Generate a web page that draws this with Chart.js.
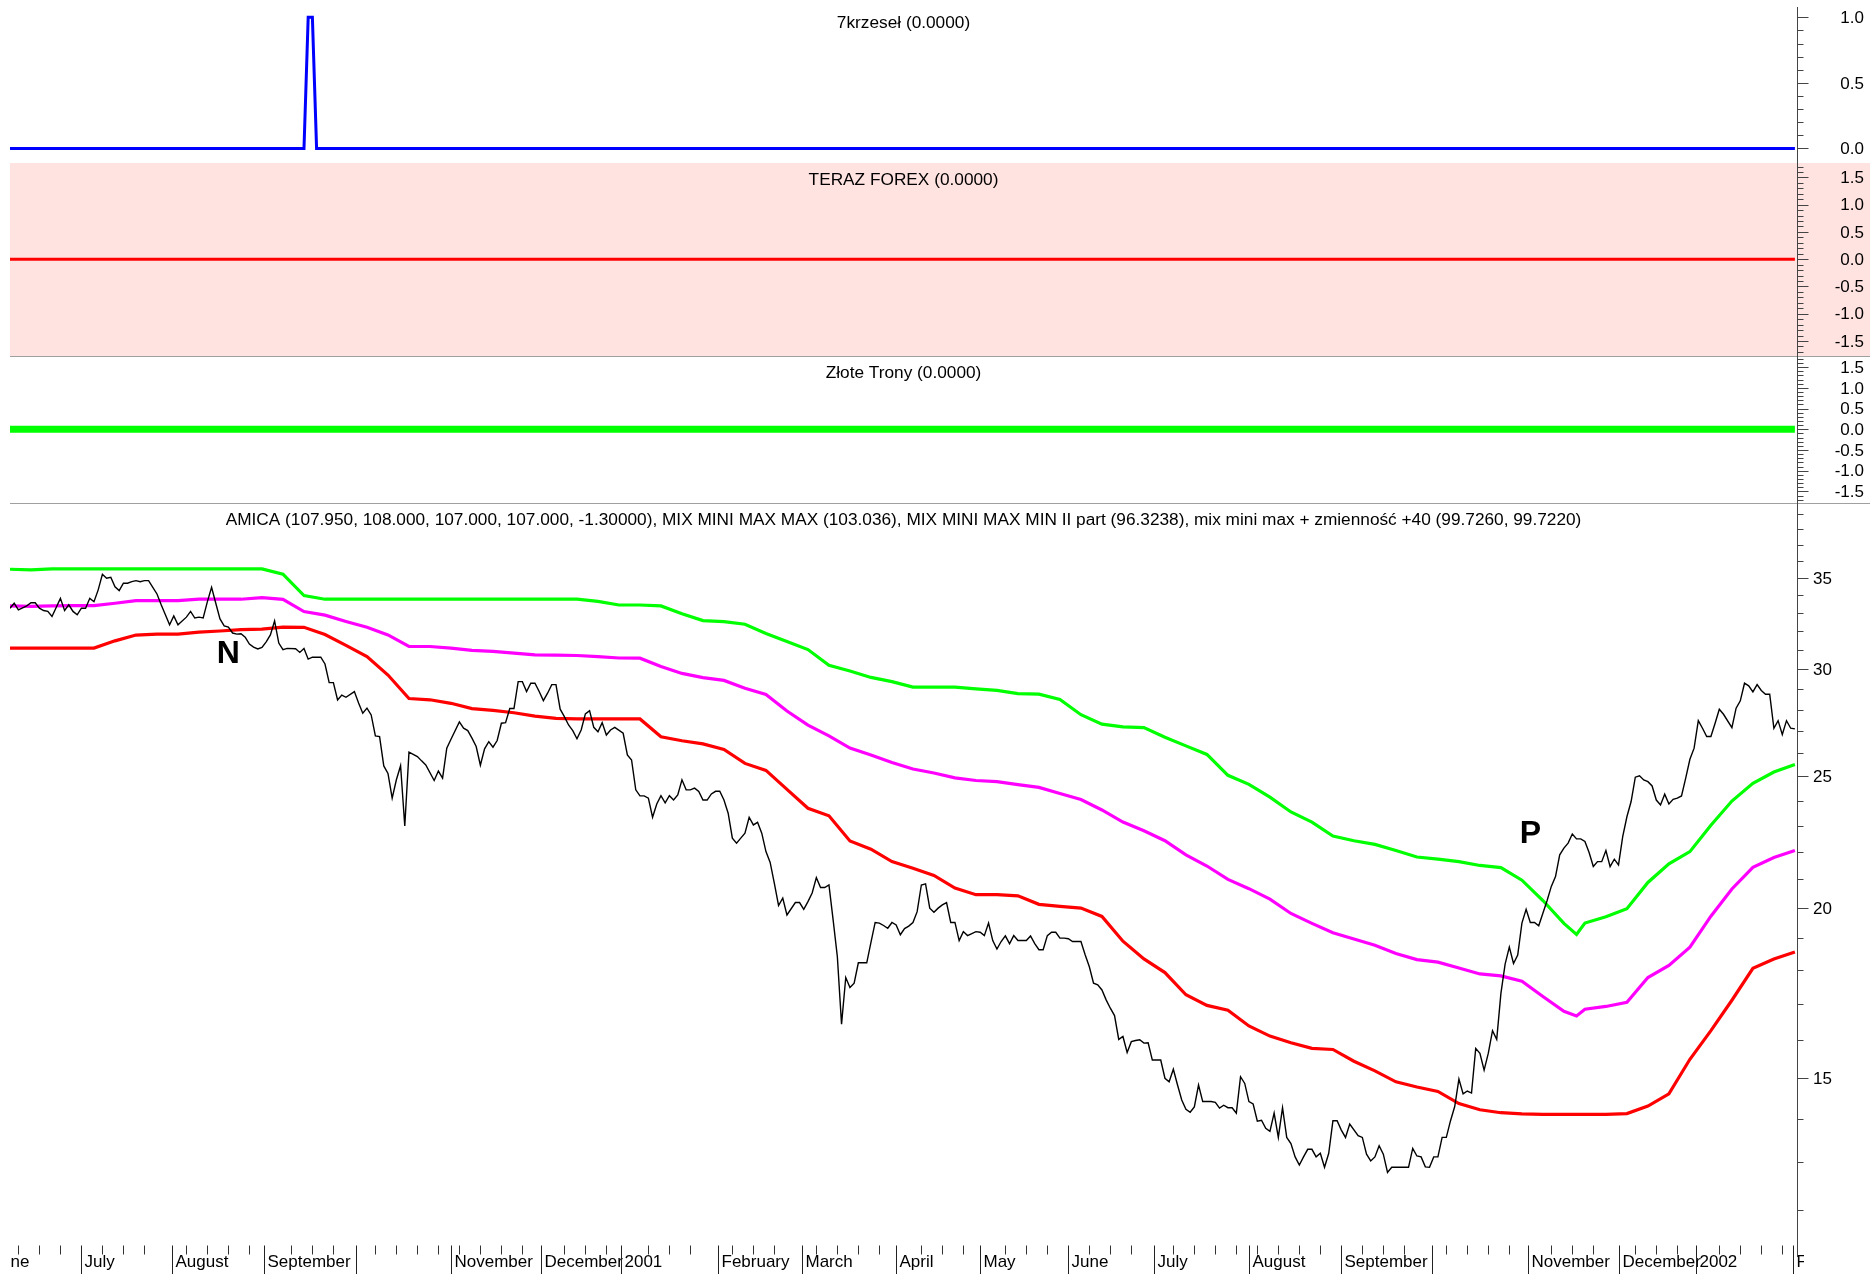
<!DOCTYPE html>
<html><head><meta charset="utf-8">
<script src="https://cdn.jsdelivr.net/npm/chart.js@4/dist/chart.umd.min.js"></script>
<style>
html,body{margin:0;padding:0;background:#fff;}
#wrap{position:relative;width:1870px;height:1274px;overflow:hidden;background:#fff;}
canvas{position:absolute;left:0;}
</style></head><body>
<div id="wrap">
<canvas id="c1" width="1870" height="163" style="top:0px"></canvas>
<canvas id="c2" width="1870" height="193" style="top:163px"></canvas>
<canvas id="c3" width="1870" height="147" style="top:356px"></canvas>
<canvas id="c4" width="1870" height="771" style="top:503px"></canvas>
</div>
<script>
// ---------------- DATA ----------------
const panelTitles = [
  '7krzeseł (0.0000)',
  'TERAZ FOREX (0.0000)',
  'Złote Trony (0.0000)',
  'AMICA (107.950, 108.000, 107.000, 107.000, -1.30000), MIX MINI MAX MAX (103.036), MIX MINI MAX MIN II part (96.3238), mix mini max + zmienność +40 (99.7260, 99.7220)'
];

// trading-day index of each month boundary and its label
const monthDays   = [-5, 17, 38.5, 60.5, 82.5, 105, 126.5, 145.5, 168.5, 188.5, 211, 231, 252, 272.5, 295, 317, 338.5, 361.5, 383, 401.5, 424.5];
const monthLabels = ['June','July','August','September','','November','December','2001','February','March','April','May','June','July','August','September','','November','December','2002','February'];

// 7krzesel signal
const krzeselDays   = [0, 70, 71, 72, 73, 425];
const krzeselValues = [0, 0, 1, 1, 0, 0];
// TERAZ FOREX signal
const forexDays   = [0, 425];
const forexValues = [0, 0];
// Zlote Trony signal
const tronyDays   = [0, 425];
const tronyValues = [0, 0];

// AMICA daily close (index = trading day, null = not read)
const priceClose = [
33.25,33.53,33.16,null,33.38,33.56,33.56,33.25,33.12,33.07,
32.79,null,33.81,33.12,33.44,33.07,32.88,33.25,33.25,33.81,
33.62,34.30,35.22,34.98,35.04,34.48,34.26,34.69,34.69,34.78,
34.84,34.78,34.84,34.84,34.45,34.06,33.44,32.88,32.33,32.82,
32.33,null,32.75,33.07,32.70,32.75,32.71,33.62,34.45,33.53,
32.65,32.27,32.20,31.88,31.82,31.84,31.66,31.29,31.13,31.03,
31.11,31.41,31.78,32.54,31.34,30.99,31.06,null,31.04,30.85,
31.06,30.50,30.60,null,30.60,30.25,29.31,29.31,28.46,28.70,
28.59,null,28.87,28.31,27.83,28.07,27.75,26.78,26.75,25.45,
25.13,24.10,24.86,25.46,22.99,26.05,null,25.86,25.67,25.49,
null,24.83,25.23,24.93,26.23,26.63,null,27.42,27.13,27.02,
26.68,26.30,25.48,26.20,26.52,26.27,26.57,27.36,27.39,28.05,
28.05,29.36,29.36,28.87,29.28,29.28,28.87,28.43,28.79,29.21,
29.21,28.02,27.67,27.28,27.02,26.65,27.05,27.80,27.95,27.17,
26.97,27.39,26.82,27.05,27.17,null,26.90,25.93,25.71,24.44,
24.19,24.19,24.10,23.33,23.86,24.20,23.91,24.20,24.02,24.23,
24.86,24.44,24.44,24.51,24.37,24.02,24.02,24.27,24.38,24.38,
24.02,23.49,22.52,22.33,22.52,22.71,23.33,23.03,23.13,22.71,
22.01,21.61,20.86,20.09,20.34,19.77,null,20.19,20.19,19.96,
20.22,20.52,21.06,20.71,20.71,20.80,19.60,18.42,16.43,17.78,
17.48,17.61,18.23,18.23,18.23,18.87,19.52,19.50,19.42,19.33,
19.52,19.44,19.12,19.32,19.40,19.52,19.88,20.80,20.84,20.00,
19.86,20.00,20.11,20.19,19.52,19.52,18.93,19.22,19.09,null,
19.22,19.20,19.09,19.50,18.93,18.66,18.90,19.08,18.83,19.09,
18.93,18.93,18.93,19.08,18.83,18.64,18.64,19.09,19.20,19.20,
19.01,19.01,18.99,18.90,18.90,18.90,18.48,18.11,17.61,17.56,
17.41,17.12,16.88,16.67,16.01,16.09,15.66,15.95,15.98,16.00,
15.91,15.92,15.46,null,15.46,14.99,14.90,15.22,14.82,14.45,
14.22,14.15,14.28,14.82,14.41,14.41,14.41,14.39,14.25,14.32,
14.26,14.26,14.13,15.03,14.86,14.41,14.35,13.94,13.96,13.77,
13.70,14.13,13.56,14.26,13.56,13.42,13.12,12.94,13.12,13.29,
13.29,13.12,13.20,12.89,13.20,13.95,13.95,13.73,13.56,13.87,
null,13.60,13.56,13.18,13.03,13.12,13.37,13.18,12.78,12.89,
12.89,null,12.89,12.89,13.31,13.14,13.12,12.90,12.89,13.12,
13.12,13.56,13.56,13.95,14.29,14.97,14.60,14.67,14.62,15.77,
15.64,15.20,15.64,16.25,16.01,17.31,18.19,18.72,18.21,18.47,
19.50,19.96,19.52,19.52,19.41,null,20.26,20.75,21.10,21.89,
22.14,22.33,22.68,22.49,22.49,22.39,21.98,21.46,21.64,21.64,
22.05,21.46,21.73,21.52,22.58,23.35,23.96,24.97,25.03,24.85,
24.78,24.60,24.02,23.82,24.26,23.86,24.05,24.10,24.19,24.93,
25.74,26.23,27.48,27.13,26.75,26.75,27.36,28.02,27.78,null,
27.16,28.07,28.42,29.28,29.15,28.85,29.21,28.92,28.74,28.74,
27.13,27.48,26.84,27.48,27.13,27.10
];

// indicator bands, sampled on these trading days
const bandDays = [0,5,10,15,20,25,30,35,40,45,50,55,60,65,70,75,80,85,90,95,100,105,110,115,120,125,130,135,140,145,150,155,160,165,170,175,180,185,190,195,200,205,210,215,220,225,230,235,240,245,250,255,260,265,270,275,280,285,290,295,300,305,310,315,320,325,330,335,340,345,350,355,360,365,370,373,375,380,385,390,395,400,405,410,415,420,425];

const mixMax = [35.52,35.48,35.54,35.54,35.54,35.54,35.54,35.54,35.54,35.54,35.54,35.54,35.54,35.22,33.97,
33.76,33.76,33.76,33.76,33.76,33.76,33.76,33.76,33.76,33.76,33.76,33.76,33.76,
33.64,33.43,33.43,33.38,32.94,32.56,32.50,32.36,31.86,31.43,31.00,30.19,29.89,29.57,29.36,29.09,29.09,29.09,29.00,28.93,28.77,28.74,28.48,27.76,27.32,27.19,27.16,26.72,26.33,25.95,25.05,24.67,24.14,23.54,23.14,22.60,22.42,22.28,22.05,21.81,21.73,21.64,21.50,21.42,20.97,20.26,19.49,
19.13,19.50,19.71,19.98,20.89,21.56,22.01,23.02,23.98,24.71,25.19,25.51];

const mixMid = [33.38,33.35,33.38,33.40,33.40,33.53,33.68,33.68,33.68,33.76,33.76,33.76,33.85,33.75,33.06,
32.86,32.51,32.19,31.78,31.16,31.16,31.07,30.96,30.90,30.81,30.72,30.71,30.69,
30.63,30.56,30.55,30.12,29.77,29.56,29.42,29.03,28.73,27.93,27.27,26.78,26.23,25.93,25.60,25.32,25.15,24.94,24.83,24.78,24.66,24.54,24.29,24.04,23.62,23.14,22.80,22.42,21.89,21.48,21.00,20.67,20.31,19.82,19.49,19.18,18.98,18.78,18.52,18.33,18.25,18.07,17.89,17.83,17.67,17.22,16.79,
16.66,16.85,16.93,17.05,17.78,18.15,18.72,19.73,20.66,21.43,21.79,22.05];

const mixMin = [31.08,31.08,31.08,31.08,31.08,31.46,31.77,31.82,31.82,31.93,31.99,32.06,32.09,32.20,32.19,
31.80,31.22,30.63,29.69,28.53,28.47,28.30,28.05,27.96,27.85,27.69,27.59,27.56,
27.56,27.56,27.56,26.74,26.56,26.42,26.17,25.56,25.26,24.46,23.69,23.39,22.41,22.10,21.64,21.40,21.14,20.69,20.46,20.46,20.42,20.13,20.06,20.00,19.72,18.91,18.35,17.93,17.27,16.96,16.82,16.38,16.10,15.92,15.77,15.74,15.43,15.18,14.90,14.77,14.66,14.36,14.21,14.14,14.11,14.10,14.10,
14.10,14.10,14.10,14.12,14.30,14.60,15.48,16.25,17.11,18.06,18.35,18.57];

// annotations
const markerLabels = ['N', 'P'];
const markerDays   = [52, 362];
const markerPrices = [30.91, 22.77];

// axis tick values
const krzeselTicks = [0, 0.5, 1.0];
const signalTicks  = [-1.5, -1.0, -0.5, 0.0, 0.5, 1.0, 1.5];
const priceTicks   = [15, 20, 25, 30, 35];

// ---------------- RENDER ----------------
const FONT = '"Liberation Sans", Arial, Helvetica, sans-serif';
const AXIS_COLOR = '#444';

function toPoints(xs, ys) {
  const out = [];
  for (let i = 0; i < ys.length; i++) if (ys[i] !== null) out.push({x: xs[i], y: ys[i]});
  return out;
}
const priceDays = priceClose.map((_, i) => i);

function decor(spec) {
  return {
    id: 'decor',
    beforeDraw(chart) {
      const ctx = chart.ctx;
      ctx.save();
      ctx.fillStyle = '#fff';
      ctx.fillRect(0, 0, chart.width, chart.height);
      if (spec.bg) { ctx.fillStyle = spec.bg; ctx.fillRect(10, 0, chart.width - 10, chart.height); }
      ctx.restore();
    },
    afterDraw(chart) {
      const ctx = chart.ctx;
      const ca = chart.chartArea;
      const ys = chart.scales.y;
      const ax = Math.round(ca.right) + 0.5;
      ctx.save();
      if (spec.sepTop) {
        ctx.strokeStyle = '#a0a0a0'; ctx.lineWidth = 1;
        ctx.beginPath(); ctx.moveTo(10, 0.5); ctx.lineTo(chart.width, 0.5); ctx.stroke();
      }
      // title
      ctx.fillStyle = '#000';
      ctx.font = '17.25px ' + FONT;
      ctx.textAlign = 'center'; ctx.textBaseline = 'middle';
      ctx.fillText(spec.title, (ca.left + ca.right) / 2, spec.titleY);
      // y axis line
      ctx.strokeStyle = AXIS_COLOR; ctx.lineWidth = 1;
      ctx.beginPath(); ctx.moveTo(ax, spec.axisTop); ctx.lineTo(ax, spec.axisBottom); ctx.stroke();
      // ticks
      ctx.beginPath();
      spec.minors.forEach(v => {
        const y = Math.round(ys.getPixelForValue(v)) + 0.5;
        ctx.moveTo(ax, y); ctx.lineTo(ax + 6, y);
      });
      spec.majors.forEach(v => {
        const y = Math.round(ys.getPixelForValue(v)) + 0.5;
        ctx.moveTo(ax, y); ctx.lineTo(ax + 11, y);
      });
      ctx.stroke();
      // labels
      ctx.fillStyle = '#000';
      ctx.font = '17px ' + FONT;
      ctx.textAlign = spec.labelAlign; ctx.textBaseline = 'middle';
      spec.majors.forEach((v, i) => {
        const y = ys.getPixelForValue(v);
        ctx.fillText(spec.labels[i], spec.labelX, y + 1);
      });
      // markers
      if (spec.markers) {
        const xs = chart.scales.x;
        ctx.font = 'bold 32px ' + FONT;
        ctx.textAlign = 'center'; ctx.textBaseline = 'alphabetic';
        markerLabels.forEach((t, i) => {
          ctx.fillText(t, xs.getPixelForValue(markerDays[i]), ys.getPixelForValue(markerPrices[i]) + 11.5);
        });
      }
      // x axis
      if (spec.xAxis) {
        const xs = chart.scales.x;
        const base = Math.round(ca.bottom) + 0.5;
        ctx.strokeStyle = '#333'; ctx.lineWidth = 1;
        ctx.beginPath();
        for (let d = 2; d <= 425.5; d += 5) {
          if (monthDays.some(m => Math.abs(m - d) < 1.6)) continue;
          const x = Math.round(xs.getPixelForValue(d)) + 0.5;
          ctx.moveTo(x, base); ctx.lineTo(x, base + 9);
        }
        ctx.stroke();
        ctx.save();
        ctx.beginPath(); ctx.rect(10, base - 1, 1804 - 10, chart.height - base + 1); ctx.clip();
        ctx.fillStyle = '#000';
        ctx.font = '17px ' + FONT;
        ctx.textAlign = 'left'; ctx.textBaseline = 'middle';
        monthDays.forEach((d, i) => {
          const x = Math.round(xs.getPixelForValue(d)) + 0.5;
          if (monthLabels[i]) ctx.fillText(monthLabels[i], x + 3, base + 17);
        });
        ctx.strokeStyle = '#222';
        ctx.beginPath();
        monthDays.forEach(d => {
          const x = Math.round(xs.getPixelForValue(d)) + 0.5;
          ctx.moveTo(x, base); ctx.lineTo(x, chart.height);
        });
        ctx.stroke();
        ctx.restore();
      }
      ctx.restore();
    }
  };
}

function build(id, datasets, yOpts, spec, padBottom) {
  return new Chart(document.getElementById(id), {
    type: 'line',
    data: { datasets },
    options: {
      responsive: false, animation: false, events: [],
      layout: { padding: { left: 10, right: 73, top: 0, bottom: padBottom || 0 } },
      plugins: { legend: { display: false }, tooltip: { enabled: false } },
      elements: { point: { radius: 0 }, line: { tension: 0 } },
      scales: {
        x: { type: 'linear', min: 0, max: 425.5, display: false },
        y: Object.assign({ display: false }, yOpts)
      }
    },
    plugins: [decor(spec)]
  });
}

function minorSteps(lo, hi, step) {
  const out = [];
  for (let k = Math.round(lo / step); k <= Math.round(hi / step); k++) out.push(+(k * step).toFixed(4));
  return out;
}

// panel 1
build('c1', [
  { data: toPoints(krzeselDays, krzeselValues), borderColor: '#0000ff', borderWidth: 3, fill: false }
], { type: 'linear', min: -0.111, max: 1.132 }, {
  title: panelTitles[0], titleY: 23.5, axisTop: 7, axisBottom: 163,
  majors: krzeselTicks, labels: krzeselTicks.map(v => v.toFixed(1)),
  minors: minorSteps(0, 1, 0.1), labelAlign: 'right', labelX: 1864
});

// panel 2
build('c2', [
  { data: toPoints(forexDays, forexValues), borderColor: '#ff0000', borderWidth: 3, fill: false }
], { type: 'linear', min: -1.776, max: 1.765 }, {
  title: panelTitles[1], titleY: 17, axisTop: 0, axisBottom: 193, bg: '#ffe3e0',
  majors: signalTicks, labels: signalTicks.map(v => v.toFixed(1)),
  minors: minorSteps(-1.7, 1.7, 0.1), labelAlign: 'right', labelX: 1864
});

// panel 3
build('c3', [
  { data: toPoints(tronyDays, tronyValues), borderColor: '#00ff00', borderWidth: 7, fill: false }
], { type: 'linear', min: -1.78, max: 1.771 }, {
  title: panelTitles[2], titleY: 17, axisTop: 0, axisBottom: 147, sepTop: true,
  majors: signalTicks, labels: signalTicks.map(v => v.toFixed(1)),
  minors: minorSteps(-1.7, 1.7, 0.1), labelAlign: 'right', labelX: 1864
});

// panel 4 main
build('c4', [
  { data: toPoints(priceDays, priceClose), borderColor: '#000000', borderWidth: 1.4, fill: false },
  { data: toPoints(bandDays, mixMax), borderColor: '#00ff00', borderWidth: 3.2, fill: false },
  { data: toPoints(bandDays, mixMid), borderColor: '#ff00ff', borderWidth: 3.2, fill: false },
  { data: toPoints(bandDays, mixMin), borderColor: '#ff0000', borderWidth: 3.2, fill: false }
], { type: 'logarithmic', min: 11.3, max: 39.74 }, {
  title: panelTitles[3], titleY: 17, axisTop: 0, axisBottom: 754, sepTop: true,
  majors: priceTicks, labels: priceTicks.map(v => String(v)),
  minors: minorSteps(12, 39, 1).filter(v => priceTicks.indexOf(v) < 0),
  labelAlign: 'left', labelX: 1813, markers: true, xAxis: true
}, 29);
</script>
</body></html>
